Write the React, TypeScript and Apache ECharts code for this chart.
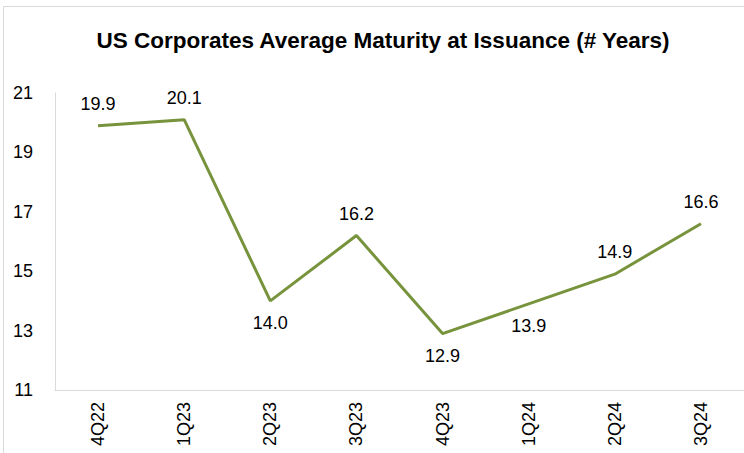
import React, { useEffect, useRef } from "react";
import * as echarts from "echarts";

const categories = ["4Q22", "1Q23", "2Q23", "3Q23", "4Q23", "1Q24", "2Q24", "3Q24"];
const values = [19.9, 20.1, 14.0, 16.2, 12.9, 13.9, 14.9, 16.6];
const labelPositions = ["top", "top", "bottom", "top", "bottom", "bottom", "top", "top"];
const titleText = "US Corporates Average Maturity at Issuance (# Years)";

export default function App() {
  const ref = useRef<HTMLDivElement>(null);
  useEffect(() => {
    if (!ref.current) return;
    const chart = echarts.init(ref.current, null, { renderer: "svg" });
    const font = "Arial, 'Liberation Sans', sans-serif";
    chart.setOption({
      animation: false,
      backgroundColor: "#fff",
      textStyle: { fontFamily: font },
      title: {
        text: titleText,
        left: 378,
        textAlign: "center",
        top: 24,
        textStyle: { fontFamily: font, fontSize: 22.5, fontWeight: "bold", color: "#000" },
      },
      graphic: [
        { type: "line", shape: { x1: 3.5, y1: 6.5, x2: 744, y2: 6.5 }, style: { stroke: "#d9d9d9", lineWidth: 1 } },
        { type: "line", shape: { x1: 3.5, y1: 6.5, x2: 3.5, y2: 453 }, style: { stroke: "#d9d9d9", lineWidth: 1 } },
      ],
      grid: { left: 55, top: 93, width: 697, height: 297, containLabel: false },
      xAxis: {
        type: "category",
        data: categories,
        boundaryGap: true,
        axisLine: { show: true, lineStyle: { color: "#d9d9d9", width: 1 } },
        axisTick: { show: false },
        axisLabel: { rotate: 90, margin: 12, fontSize: 18, color: "#000", fontFamily: font },
      },
      yAxis: {
        type: "value",
        min: 11,
        max: 21,
        interval: 2,
        splitLine: { show: false },
        axisLine: { show: true, lineStyle: { color: "#d9d9d9", width: 1 } },
        axisTick: { show: false },
        axisLabel: { margin: 22, fontSize: 18, color: "#000", fontFamily: font },
      },
      series: [
        {
          type: "line",
          data: values.map((v, i) => ({
            value: v,
            label: { position: labelPositions[i] },
          })),
          symbol: "circle",
          symbolSize: 0.1,
          showSymbol: true,
          lineStyle: { color: "#77933c", width: 3 },
          itemStyle: { color: "#77933c" },
          label: {
            show: true,
            distance: 13,
            fontSize: 18,
            color: "#000",
            fontFamily: font,
            formatter: (p: any) => Number(p.value).toFixed(1),
          },
        },
      ],
    });
    return () => chart.dispose();
  }, []);
  return <div ref={ref} style={{ width: 744, height: 453, position: "absolute", left: 0, top: 0 }} />;
}
